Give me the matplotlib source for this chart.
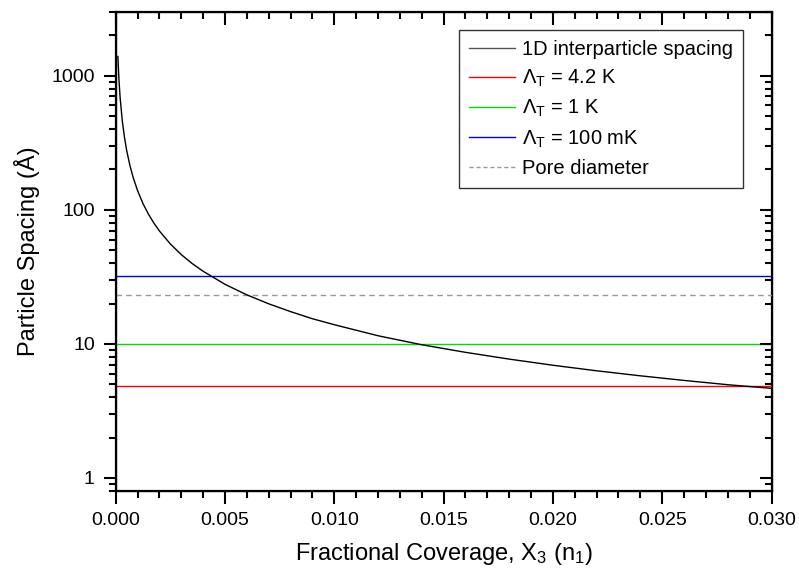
import matplotlib
matplotlib.use("Agg")
import matplotlib.pyplot as plt
from matplotlib.ticker import MultipleLocator, LogLocator, NullFormatter, FixedLocator

plt.rcParams['font.family'] = ['Liberation Sans', 'DejaVu Sans']
plt.rcParams['mathtext.fontset'] = 'custom'
plt.rcParams['mathtext.rm'] = 'Liberation Sans'
plt.rcParams['mathtext.it'] = 'Liberation Sans'

# 1D interparticle spacing vs coverage
coverage = [0.0001, 0.00015, 0.0002, 0.0003, 0.0004, 0.0005, 0.00065, 0.0008, 0.001,
            0.00125, 0.0015, 0.00175, 0.002, 0.0025, 0.003, 0.0035, 0.004, 0.005,
            0.006, 0.007, 0.008, 0.009, 0.010, 0.012, 0.014, 0.016, 0.018, 0.020,
            0.022, 0.024, 0.026, 0.028, 0.030]
spacing = [1390, 927, 695, 463, 348, 278, 214, 174, 139,
           111, 92.7, 79.4, 69.5, 55.6, 46.3, 39.7, 34.8, 27.8,
           23.2, 19.9, 17.4, 15.4, 13.9, 11.5, 9.85, 8.65, 7.7, 6.93,
           6.3, 5.78, 5.34, 4.96, 4.66]

# thermal wavelengths and pore size (Angstrom)
lambda_labels = ['4.2 K', '1 K', '100 mK']
lambda_values = [4.86, 10.05, 32.0]
lambda_colors = ['#ff0000', '#00dd00', '#0000ee']
pore_diameter = 23.2

fig = plt.figure(figsize=(7.99, 5.69), dpi=100)
ax = fig.add_axes([0.1448, 0.1371, 0.8208, 0.8424])

ax.plot(coverage, spacing, color='black', lw=1.0, zorder=5)
legend_handles = []
h, = ax.plot([], [], color='#555555', lw=1.0, label='1D interparticle spacing')
legend_handles.append(h)
for lab, val, col in zip(lambda_labels, lambda_values, lambda_colors):
    ax.axhline(val, color=col, lw=1.0, zorder=3)
    h, = ax.plot([], [], color=col, lw=1.0, label=r'$\Lambda_{\mathrm{T}}$ = ' + lab)
    legend_handles.append(h)
ax.axhline(pore_diameter, color='#999999', lw=1.0, ls=(0, (4, 3)), zorder=3)
h, = ax.plot([], [], color='#999999', lw=1.0, ls=(0, (3, 2)), label='Pore diameter')
legend_handles.append(h)

ax.set_xlim(0, 0.030)
ax.set_yscale('log')
ax.set_ylim(0.8, 3000)

ax.xaxis.set_major_locator(MultipleLocator(0.005))
ax.xaxis.set_minor_locator(MultipleLocator(0.001))
ax.xaxis.set_major_formatter(plt.FuncFormatter(lambda v, p: f'{v:.3f}'))
ax.yaxis.set_major_locator(FixedLocator([1, 10, 100, 1000]))
ax.yaxis.set_major_formatter(plt.FuncFormatter(lambda v, p: f'{v:g}'))
ax.yaxis.set_minor_locator(LogLocator(base=10, subs=range(2, 10)))
ax.yaxis.set_minor_formatter(NullFormatter())

ax.tick_params(which='both', direction='out', width=1.5, labelsize=14)
ax.tick_params(which='major', length=9)
ax.tick_params(which='minor', length=5)
ax.tick_params(axis='y', pad=6)
ax.tick_params(axis='x', pad=6)
for s in ax.spines.values():
    s.set_linewidth(1.6)

# inward ticks on the opposite sides
axr = ax.twinx()
axr.set_yscale('log')
axr.set_ylim(ax.get_ylim())
axr.yaxis.set_major_locator(FixedLocator([1, 10, 100, 1000]))
axr.yaxis.set_minor_locator(LogLocator(base=10, subs=range(2, 10)))
axr.yaxis.set_major_formatter(NullFormatter())
axr.yaxis.set_minor_formatter(NullFormatter())
axr.tick_params(which='both', direction='in', width=1.5)
axr.tick_params(which='major', length=9)
axr.tick_params(which='minor', length=5)

axt = ax.twiny()
axt.set_xlim(ax.get_xlim())
axt.xaxis.set_major_locator(MultipleLocator(0.005))
axt.xaxis.set_minor_locator(MultipleLocator(0.001))
axt.xaxis.set_major_formatter(NullFormatter())
axt.tick_params(which='both', direction='in', width=1.5)
axt.tick_params(which='major', length=9)
axt.tick_params(which='minor', length=5)

ax.set_xlabel(r'Fractional Coverage, X$_{3}$ (n$_{1}$)', fontsize=17, labelpad=9)
ax.set_ylabel('Particle Spacing (Å)', fontsize=17, labelpad=8)

leg = axt.legend(handles=legend_handles, loc='upper right', bbox_to_anchor=(0.957, 0.9625),
                 borderaxespad=0, fontsize=14.5, frameon=True, fancybox=False,
                 edgecolor='black', handlelength=2.3, handletextpad=0.35,
                 borderpad=0.5, labelspacing=0.45)
leg.get_frame().set_linewidth(1.0)

fig.savefig('out.png', dpi=100)
